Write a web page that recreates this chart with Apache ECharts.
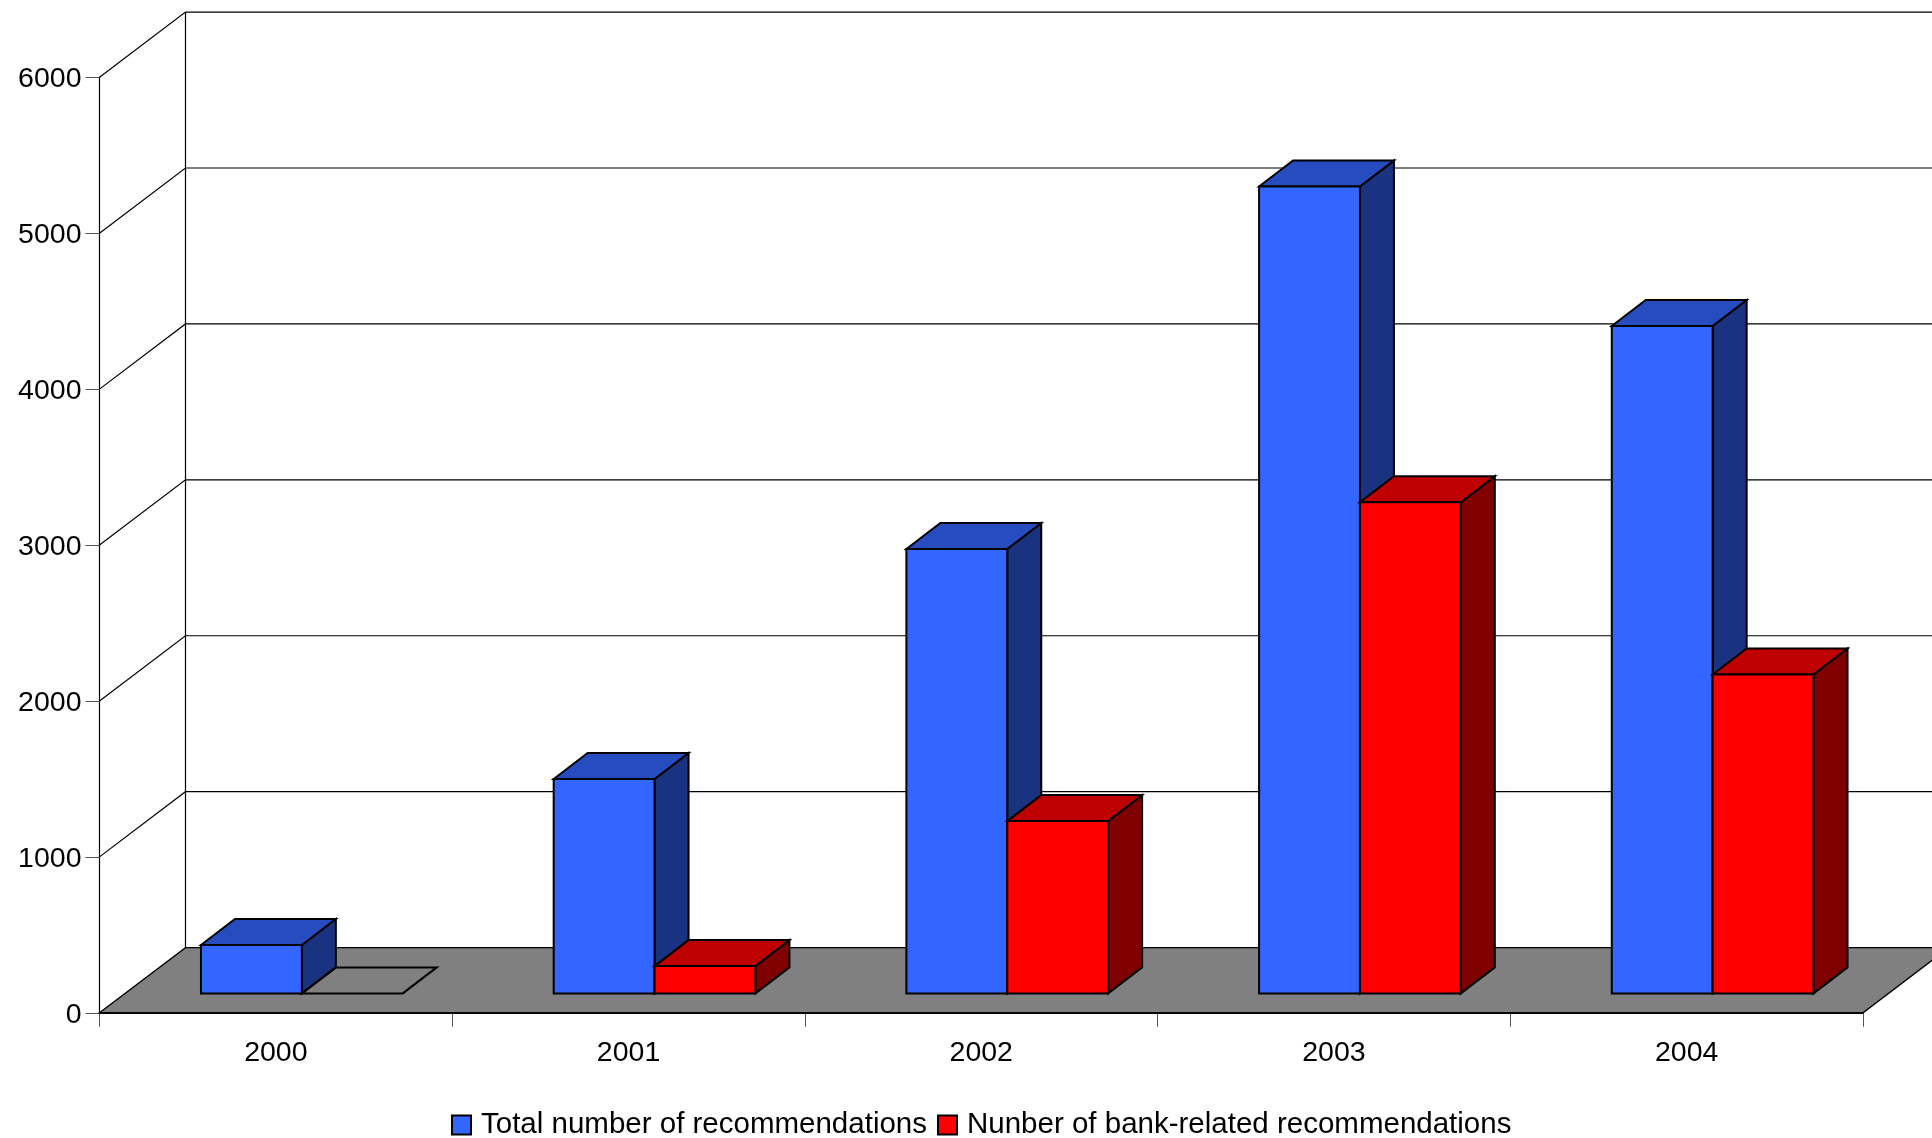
<!DOCTYPE html>
<html>
<head>
<meta charset="utf-8">
<style>html,body{margin:0;padding:0;background:#fff}#c{width:1932px;height:1138px}</style>
<script src="https://cdn.jsdelivr.net/npm/echarts@6/dist/echarts.min.js"></script>
</head>
<body>
<div id="c"></div>
<script>
const categories = ['2000', '2001', '2002', '2003', '2004'];
const totalRecommendations = [310, 1375, 2850, 5175, 4280];
const bankRecommendations = [0, 175, 1105, 3150, 2045];
const yTicks = [0, 1000, 2000, 3000, 4000, 5000, 6000];

// scene depth (oblique projection), in pixels
const FLOOR_DX = 86, FLOOR_DY = 65.2;
const BAR_OFF_X = 26, BAR_OFF_Y = 19.4;
const BAR_DX = 34, BAR_DY = 26;
const BAR_FRAC = 0.286;
const BLUE = {front:'#3366ff', top:'#264cbf', side:'#1a3380'};
const RED  = {front:'#ff0000', top:'#bf0000', side:'#800000'};
const WALL_LINE = {stroke:'#000', lineWidth:1.2, fill:null};
const BAR_BORDER = 2;

function wallItem(params, api) {
  const v = api.value(0);
  const cs = params.coordSys;
  const p = api.coord([0, v]);
  const x0 = cs.x, x1 = cs.x + cs.width, y = p[1];
  const kids = [];
  if (v === 0) {
    kids.push({type:'polygon', shape:{points:[[x0,y],[x0+FLOOR_DX,y-FLOOR_DY],[x1+FLOOR_DX,y-FLOOR_DY],[x1,y]]},
      style:{fill:'#808080', stroke:'#000', lineWidth:1.4}});
    kids.push({type:'line', shape:{x1:x0+FLOOR_DX,y1:y-FLOOR_DY,x2:x0+FLOOR_DX,y2:cs.y-FLOOR_DY}, style:WALL_LINE});
  } else {
    kids.push({type:'polyline', shape:{points:[[x0,y],[x0+FLOOR_DX,y-FLOOR_DY],[x1+FLOOR_DX,y-FLOOR_DY]]}, style:WALL_LINE});
  }
  return {type:'group', children:kids};
}

function barItem(side, col) {
  return function (params, api) {
    const idx = api.value(0), v = api.value(1);
    const base = api.coord([idx, 0]), top = api.coord([idx, v]);
    const w = api.size([1, 0])[0] * BAR_FRAC;
    const cx = base[0] + BAR_OFF_X;
    const l = side === 0 ? cx - w : cx, r = l + w;
    const yb = base[1] - BAR_OFF_Y, yt = top[1] - BAR_OFF_Y;
    const s = {stroke:'#000', lineWidth:BAR_BORDER, lineJoin:'miter'};
    const topFace = {type:'polygon', shape:{points:[[l,yt],[l+BAR_DX,yt-BAR_DY],[r+BAR_DX,yt-BAR_DY],[r,yt]]},
      style:Object.assign({fill: v === 0 ? 'transparent' : col.top}, s)};
    if (v === 0) return {type:'group', children:[topFace]};
    return {type:'group', children:[
      {type:'polygon', shape:{points:[[r,yt],[r+BAR_DX,yt-BAR_DY],[r+BAR_DX,yb-BAR_DY],[r,yb]]}, style:Object.assign({fill:col.side}, s)},
      topFace,
      {type:'rect', shape:{x:l,y:yt,width:w,height:yb-yt}, style:Object.assign({fill:col.front}, s)}
    ]};
  };
}

const font = 'Liberation Sans';
const chart = echarts.init(document.getElementById('c'), null, {renderer:'canvas', width:1932, height:1138});
chart.setOption({
  animation:false,
  backgroundColor:'#fff',
  grid:{left:99.5, top:77.3, width:1763.5, height:935.5, containLabel:false},
  legend:{
    left:446, top:1105,
    data:['Total number of recommendations','Nunber of bank-related recommendations'],
    itemWidth:19, itemHeight:19, itemGap:10, icon:'rect',
    textStyle:{fontFamily:font, fontSize:29.5, color:'#000', padding:[0,0,0,5]},
    selectedMode:false
  },
  xAxis:{
    type:'category', data:categories, boundaryGap:true,
    axisLine:{show:true, lineStyle:{color:'#000', width:1.2}},
    axisTick:{show:true, length:14, lineStyle:{color:'#555', width:1}},
    axisLabel:{fontFamily:font, fontSize:28.5, color:'#000', margin:26}
  },
  yAxis:{
    type:'value', min:0, max:6000, interval:1000,
    axisLine:{show:true, lineStyle:{color:'#000', width:1.2}},
    axisTick:{show:true, length:14, lineStyle:{color:'#555', width:1}},
    axisLabel:{color:'#000', margin:18, formatter:v=>'{n|'+v+'}',
      rich:{n:{fontFamily:font, fontSize:28.5, color:'#000', padding:[4,0,0,0]}}},
    splitLine:{show:false}
  },
  series:[
    {type:'custom', name:'walls', coordinateSystem:'cartesian2d', silent:true, z:1,
     data:yTicks.map(v=>[v]), encode:{y:0}, renderItem:wallItem, clip:false},
    {type:'custom', name:'Total number of recommendations', coordinateSystem:'cartesian2d', z:3,
     itemStyle:{color:BLUE.front, borderColor:'#000', borderWidth:1.6},
     data:totalRecommendations.map((v,i)=>[i,v]), encode:{x:0,y:1}, renderItem:barItem(0,BLUE), clip:false},
    {type:'custom', name:'Nunber of bank-related recommendations', coordinateSystem:'cartesian2d', z:4,
     itemStyle:{color:RED.front, borderColor:'#000', borderWidth:1.6},
     data:bankRecommendations.map((v,i)=>[i,v]), encode:{x:0,y:1}, renderItem:barItem(1,RED), clip:false}
  ]
});
</script>
</body>
</html>
